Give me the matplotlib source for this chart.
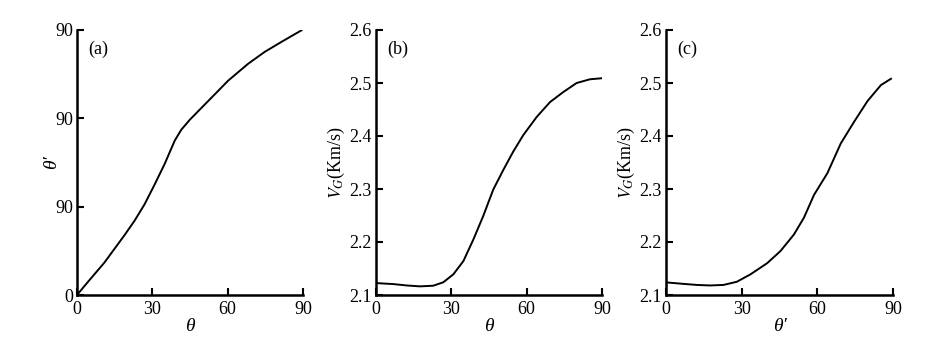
import matplotlib
matplotlib.use("Agg")
import matplotlib.pyplot as plt

# panel (a): theta' against theta
a_theta = [0, 4.3, 10.9, 18.9, 22.9, 26.9, 30.9, 34.9, 38.9, 41.5, 44.9, 49.5,
           54.8, 60.2, 68.1, 74.8, 81.5, 89.4]
a_theta_p = [0, 4.4, 11.0, 20.3, 25.2, 30.8, 37.5, 44.5, 52.4, 56.1, 59.5, 63.5,
             68.1, 72.8, 78.5, 82.6, 86.0, 89.9]

# panel (b): V_G against theta
b_theta = [0, 6.9, 12.2, 17.5, 22.8, 26.8, 30.8, 34.8, 38.8, 42.7, 46.7, 50.7,
           54.7, 58.7, 64.0, 69.3, 74.6, 79.9, 85.2, 90.0]
b_vg = [2.1225, 2.1206, 2.118, 2.1163, 2.1175, 2.124, 2.139, 2.164, 2.205, 2.249,
        2.299, 2.336, 2.371, 2.402, 2.436, 2.464, 2.483, 2.500, 2.507, 2.509]

# panel (c): V_G against theta'
c_theta_p = [0, 6.9, 12.2, 17.5, 22.8, 28.1, 33.5, 40.1, 45.4, 50.7, 54.7, 58.7,
             64.0, 69.3, 74.6, 79.9, 85.2, 89.2]
c_vg = [2.1238, 2.121, 2.119, 2.118, 2.119, 2.125, 2.139, 2.160, 2.183, 2.214,
        2.246, 2.289, 2.330, 2.386, 2.427, 2.466, 2.496, 2.508]

x_ticks = [0, 30, 60, 90]
a_yticks = [0, 30, 60, 90]
a_ytick_labels = ["0", "90", "90", "90"]
v_ticks = [2.1, 2.2, 2.3, 2.4, 2.5, 2.6]

plt.rcParams["font.family"] = ["Liberation Serif", "DejaVu Serif"]
plt.rcParams["mathtext.fontset"] = "stix"
plt.rcParams["font.size"] = 13

W, H = 945, 349
fig = plt.figure(figsize=(W / 100, H / 100), dpi=100)

# axes boxes in pixels: left, right, top, bottom
boxes = [(77, 303, 30, 295), (376, 602, 30, 295), (666, 893, 30, 295)]
axes = []
for l, r, t, b in boxes:
    ax = fig.add_axes([l / W, 1 - b / H, (r - l) / W, (b - t) / H])
    axes.append(ax)

panels = [
    (a_theta, a_theta_p, (0, 90), "θ", "(a)"),
    (b_theta, b_vg, (2.1, 2.6), "θ", "(b)"),
    (c_theta_p, c_vg, (2.1, 2.6), "θ′", "(c)"),
]

for ax, (xs, ys, ylim, xl, tag) in zip(axes, panels):
    ax.plot(xs, ys, color="black", linewidth=1.4)
    ax.set_xlim(0, 90)
    ax.set_ylim(*ylim)
    ax.set_xticks(x_ticks)
    for side in ("top", "right"):
        ax.spines[side].set_visible(False)
    for side in ("left", "bottom"):
        ax.spines[side].set_linewidth(1.8)
    ax.tick_params(direction="in", length=5, width=1.5, labelsize=13)
    ax.tick_params(axis="x", pad=4)
    ax.tick_params(axis="y", pad=3)
    ax.set_xlabel(xl, fontsize=14, style="italic", labelpad=0)
    ax.text(0.05, 0.96, tag, transform=ax.transAxes, fontsize=13,
            ha="left", va="top")

axes[0].set_ylabel("θ′", fontsize=14, style="italic", labelpad=-4)
axes[0].set_yticks(a_yticks)
axes[0].set_yticklabels(a_ytick_labels)
for ax in axes[1:]:
    ax.set_ylabel(r"$V_G$(Km/s)", fontsize=13, labelpad=2)
    ax.set_yticks(v_ticks)
    ax.set_yticklabels([f"{v:.1f}" for v in v_ticks])

fig.savefig("out.png", dpi=100)
